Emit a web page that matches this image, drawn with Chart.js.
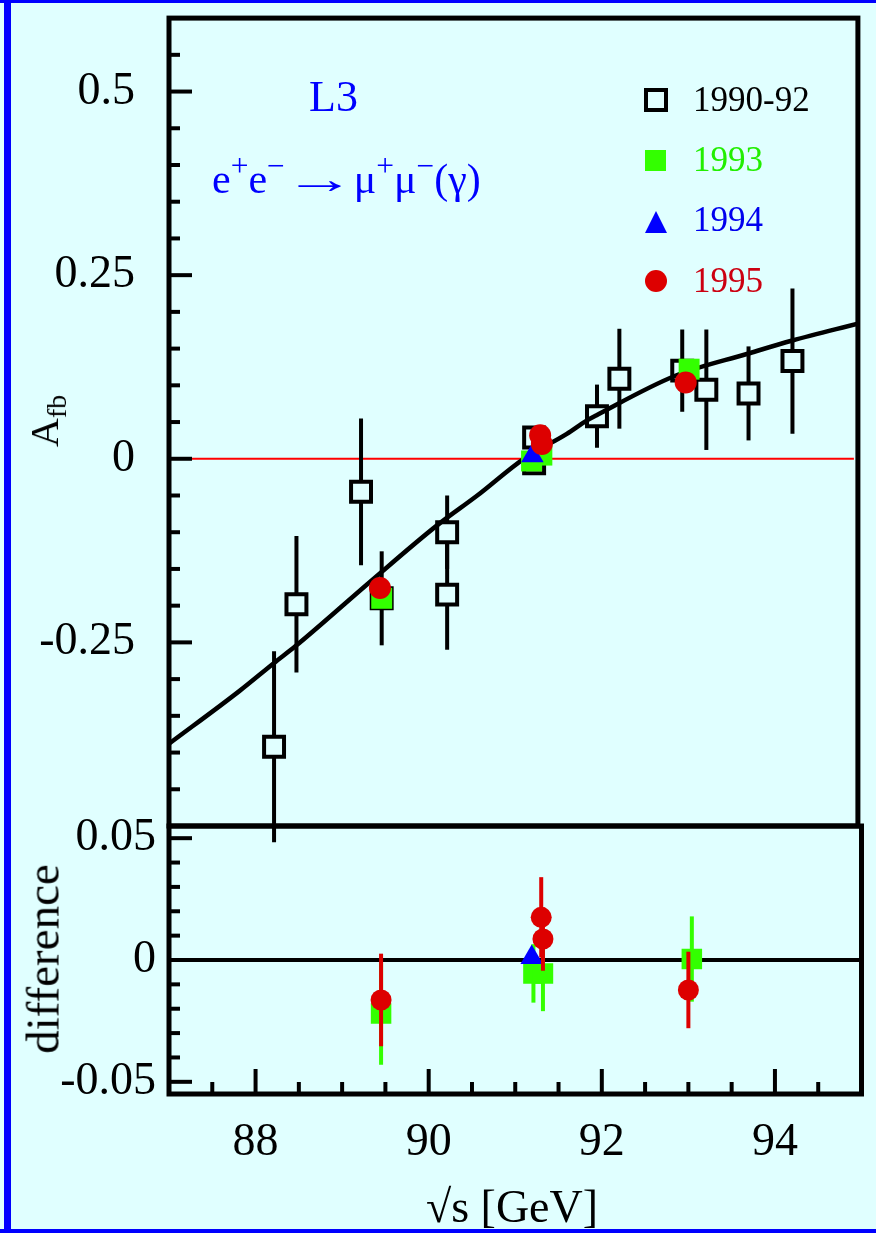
<!DOCTYPE html>
<html>
<head>
<meta charset="utf-8">
<script src="https://cdn.jsdelivr.net/npm/chart.js@4.4.0/dist/chart.umd.min.js"></script>
<style>
    body { margin: 0; background: #e0ffff; }
    #page { position: relative; width: 876px; height: 1233px; background: #e0ffff; overflow: hidden;
            font-family: 'Liberation Serif', 'Times New Roman', serif; }
    .abs { position: absolute; line-height: 1; white-space: nowrap; }
    .edge { position: absolute; background: #0000ff; }
    canvas { position: absolute; left: 0; }
    sup { font-size: 0.75em; line-height: 0; vertical-align: 0.55em; }
    sub { font-size: 0.7em; line-height: 0; vertical-align: -0.3em; }
    .arrow { display: inline-block; width: 1.2em; margin: 0 0.22em; text-align: center; transform: scaleX(1.7); }
    .rot { position: absolute; width: 0; height: 0; }
    .rot span { position: absolute; left: 0; top: 0; line-height: 1; white-space: nowrap;
                transform: translate(-50%, -50%) rotate(-90deg); }
    .mk { position: absolute; box-sizing: border-box; }
</style>
</head>
<body>
<div id="page">
    <div class="edge" style="left:0;top:0;width:876px;height:3px"></div>
    <div class="edge" style="left:4px;top:0;width:7px;height:1233px"></div>
    <div class="edge" style="left:0;top:1229px;width:876px;height:4px"></div>

    <canvas id="topCanvas" width="876" height="850" style="top:0"></canvas>
    <canvas id="bottomCanvas" width="876" height="433" style="top:800px"></canvas>

    <div class="abs" style="left:309px;top:75px;font-size:44px;color:#0000ff">L3</div>
    <div class="abs" style="left:212px;top:158px;font-size:42px;color:#0000ff">e<sup>+</sup>e<sup>−</sup><span class="arrow">→</span>μ<sup>+</sup>μ<sup>−</sup>(γ)</div>

    <div class="mk" style="left:644px;top:88px;width:24px;height:24px;border:4px solid #000;background:#e0ffff"></div>
    <div class="mk" style="left:645px;top:150px;width:21px;height:21px;background:#33ff00"></div>
    <div class="mk" style="left:645px;top:211px;width:0;height:0;border-left:11px solid transparent;border-right:11px solid transparent;border-bottom:22px solid #0000ff"></div>
    <div class="mk" style="left:645px;top:270px;width:22px;height:22px;border-radius:50%;background:#dd0000"></div>
    <div class="abs" style="left:693px;top:82px;font-size:35px;color:#000">1990-92</div>
    <div class="abs" style="left:693px;top:142px;font-size:35px;color:#22ee00">1993</div>
    <div class="abs" style="left:693px;top:202px;font-size:35px;color:#0000ee">1994</div>
    <div class="abs" style="left:693px;top:263px;font-size:35px;color:#cc0011">1995</div>

    <div class="rot" style="left:45px;top:421px"><span style="font-size:40px">A<sub>fb</sub></span></div>
    <div class="rot" style="left:43px;top:959px"><span style="font-size:47px">difference</span></div>
    <div class="abs" style="left:512px;top:1184px;font-size:46px;transform:translateX(-50%)">√s [GeV]</div>
</div>

<script>
// Axis ranges and labelled ticks
const xMin = 87, xMax = 95;
const xTickLabels = [88, 90, 92, 94];
const topTickLabels = [0.5, 0.25, 0, -0.25];
const diffTickLabels = [0.05, 0, -0.05];

// Fit curve (sqrt(s), A_fb)
const curveE = [87.0, 87.82, 88.22, 88.47, 89.35, 90.12, 90.58, 91.12, 91.62, 91.85, 91.96, 92.88, 93.72, 94.24, 95.0];
const curveA = [-0.388, -0.316, -0.278, -0.255, -0.166, -0.090, -0.050, 0.0, 0.034, 0.052, 0.059, 0.113, 0.143, 0.161, 0.184];

// 1990-92 data
const e9092 = [88.22, 88.48, 89.23, 89.47, 90.23, 90.23, 91.24, 91.24, 91.97, 92.23, 92.96, 93.24, 93.73, 94.24];
const a9092 = [-0.392, -0.198, -0.045, -0.190, -0.100, -0.185, 0.029, -0.006, 0.058, 0.109, 0.120, 0.094, 0.089, 0.133];
const err9092 = [0.13, 0.093, 0.10, 0.064, 0.05, 0.075, 0.01, 0.01, 0.043, 0.068, 0.056, 0.082, 0.064, 0.099];

// 1993 / 1994 / 1995 in the upper panel
const e93 = [89.47, 91.21, 91.33, 93.04];
const a93 = [-0.190, -0.003, 0.005, 0.122];
const e94 = [91.22];
const a94 = [0.004];
const e95 = [89.45, 91.31, 91.33, 93.00];
const a95 = [-0.176, 0.032, 0.020, 0.104];

// Lower panel: difference
const dE93 = [89.45, 91.21, 91.32, 93.04];
const d93 = [-0.022, -0.0055, -0.0055, 0.0004];
const dErr93 = [0.021, 0.012, 0.0155, 0.0175];
const dE94 = [91.19];
const d94 = [0.001];
const dErr94 = [0.002];
const dE95 = [89.45, 91.30, 91.32, 93.00];
const d95 = [-0.0164, 0.0175, 0.0086, -0.0123];
const dErr95 = [0.019, 0.0165, 0.013, 0.0157];

const BG = '#e0ffff';
const GREEN = '#33ff00';
const BLUE = '#0000ff';
const RED = '#dd0000';
const FONT = "'Liberation Serif', 'Times New Roman', serif";

function pts(xs, ys) {
    return xs.map((x, i) => ({ x: x, y: ys[i] }));
}

function steps(from, to, step) {
    const out = [];
    for (let v = from; v <= to + step / 1000; v += step) out.push(Math.round(v * 1000) / 1000);
    return out;
}

function isIn(list, v) {
    return list.some(m => Math.abs(m - v) < 1e-9);
}

// Frame, inward ticks, zero line and error bars
const panelPlugin = {
    id: 'panel',
    beforeDatasetsDraw(chart, args, opts) {
        const { ctx, chartArea: a, scales: { y } } = chart;
        const py = y.getPixelForValue(0);
        ctx.save();
        ctx.strokeStyle = opts.zeroColor;
        ctx.lineWidth = opts.zeroWidth;
        ctx.beginPath();
        ctx.moveTo(a.left, py);
        ctx.lineTo(a.right - opts.zeroGap, py);
        ctx.stroke();
        ctx.restore();
    },
    beforeDatasetDraw(chart, args) {
        const ds = chart.data.datasets[args.index];
        if (!ds.errors) return;
        const { ctx, scales: { x, y } } = chart;
        ctx.save();
        ctx.strokeStyle = ds.errColor;
        ctx.lineWidth = 4;
        ds.data.forEach((p, i) => {
            const px = x.getPixelForValue(p.x);
            ctx.beginPath();
            ctx.moveTo(px, y.getPixelForValue(p.y + ds.errors[i]));
            ctx.lineTo(px, y.getPixelForValue(p.y - ds.errors[i]));
            ctx.stroke();
        });
        ctx.restore();
    },
    afterDraw(chart, args, opts) {
        const { ctx, chartArea: a, scales: { x, y } } = chart;
        ctx.save();
        ctx.strokeStyle = '#000';
        ctx.lineWidth = 4;
        // left ticks
        opts.yTicks.forEach(v => {
            const py = y.getPixelForValue(v);
            const len = isIn(opts.yMajor, v) ? 23 : 11;
            ctx.beginPath();
            ctx.moveTo(a.left, py);
            ctx.lineTo(a.left + len, py);
            ctx.stroke();
        });
        // bottom ticks
        opts.xTicks.forEach(v => {
            const px = x.getPixelForValue(v);
            const len = isIn(opts.xMajor, v) ? 25 : 12;
            ctx.beginPath();
            ctx.moveTo(px, a.bottom);
            ctx.lineTo(px, a.bottom - len);
            ctx.stroke();
        });
        ctx.lineWidth = 5;
        ctx.strokeRect(a.left, a.top, a.right - a.left, a.bottom - a.top);
        ctx.restore();
    }
};

function yScale(min, max, labels, pad) {
    return {
        type: 'linear',
        min: min,
        max: max,
        grid: { display: false, drawTicks: false },
        border: { display: false },
        afterBuildTicks: s => { s.ticks = labels.map(v => ({ value: v })); },
        afterFit: s => {
            s.width = 169;
            s.paddingTop = 0; s.paddingBottom = 0; s.paddingLeft = 0; s.paddingRight = 0;
        },
        ticks: {
            autoSkip: false,
            padding: pad,
            color: '#000',
            font: { family: FONT, size: 46 },
            callback: v => String(Math.round(v * 1000) / 1000)
        }
    };
}

const baseOptions = {
    responsive: false,
    animation: false,
    events: []
};

new Chart(document.getElementById('topCanvas'), {
    type: 'scatter',
    data: {
        datasets: [
            {
                label: 'fit', type: 'line', data: pts(curveE, curveA),
                borderColor: '#000', borderWidth: 4.5, pointRadius: 0,
                cubicInterpolationMode: 'monotone', fill: false, order: 4
            },
            {
                label: '1990-92', data: pts(e9092, a9092), errors: err9092, errColor: '#000',
                pointStyle: 'rect', pointRadius: 14.1, borderWidth: 4, borderColor: '#000',
                backgroundColor: BG, order: 5
            },
            {
                label: '1993', data: pts(e93, a93), pointStyle: 'rect', pointRadius: 14.8,
                borderWidth: 0, backgroundColor: GREEN, order: 3
            },
            {
                label: '1994', data: pts(e94, a94), pointStyle: 'triangle', pointRadius: 13,
                borderWidth: 0, backgroundColor: BLUE, order: 2
            },
            {
                label: '1995', data: pts(e95, a95), pointStyle: 'circle', pointRadius: 11,
                borderWidth: 0, backgroundColor: RED, order: 1
            }
        ]
    },
    options: {
        ...baseOptions,
        layout: { padding: { top: 18, right: 12, bottom: 24, left: 0 } },
        plugins: {
            legend: { display: false },
            tooltip: { enabled: false },
            panel: {
                zeroColor: '#ff0000', zeroWidth: 2, zeroGap: 4,
                yTicks: steps(-0.45, 0.55, 0.05), yMajor: topTickLabels,
                xTicks: [], xMajor: []
            }
        },
        scales: {
            x: { type: 'linear', min: xMin, max: xMax, display: false },
            y: yScale(-0.5, 0.6, topTickLabels, 34)
        }
    },
    plugins: [panelPlugin]
});

new Chart(document.getElementById('bottomCanvas'), {
    type: 'scatter',
    data: {
        datasets: [
            {
                label: '1993', data: pts(dE93, d93), errors: dErr93, errColor: GREEN,
                pointStyle: 'rect', pointRadius: 14.5, borderWidth: 0, backgroundColor: GREEN, order: 3
            },
            {
                label: '1994', data: pts(dE94, d94), errors: dErr94, errColor: BLUE,
                pointStyle: 'triangle', pointRadius: 13, borderWidth: 0, backgroundColor: BLUE, order: 2
            },
            {
                label: '1995', data: pts(dE95, d95), errors: dErr95, errColor: RED,
                pointStyle: 'circle', pointRadius: 10.5, borderWidth: 0, backgroundColor: RED, order: 1
            }
        ]
    },
    options: {
        ...baseOptions,
        layout: { padding: { top: 26, right: 12, bottom: 0, left: 0 } },
        plugins: {
            legend: { display: false },
            tooltip: { enabled: false },
            panel: {
                zeroColor: '#000', zeroWidth: 4, zeroGap: 0,
                yTicks: steps(-0.05, 0.05, 0.01), yMajor: diffTickLabels,
                xTicks: steps(87.5, 94.5, 0.5), xMajor: xTickLabels
            }
        },
        scales: {
            x: {
                type: 'linear', min: xMin, max: xMax,
                grid: { display: false, drawTicks: false },
                border: { display: false },
                afterBuildTicks: s => { s.ticks = xTickLabels.map(v => ({ value: v })); },
                afterFit: s => {
                    s.height = 139;
                    s.paddingTop = 0; s.paddingBottom = 0; s.paddingLeft = 0; s.paddingRight = 0;
                },
                ticks: {
                    autoSkip: false, maxRotation: 0, padding: 21, color: '#000',
                    font: { family: FONT, size: 46 },
                    callback: v => String(v)
                }
            },
            y: yScale(-0.055, 0.055, diffTickLabels, 13)
        }
    },
    plugins: [panelPlugin]
});
</script>
</body>
</html>
